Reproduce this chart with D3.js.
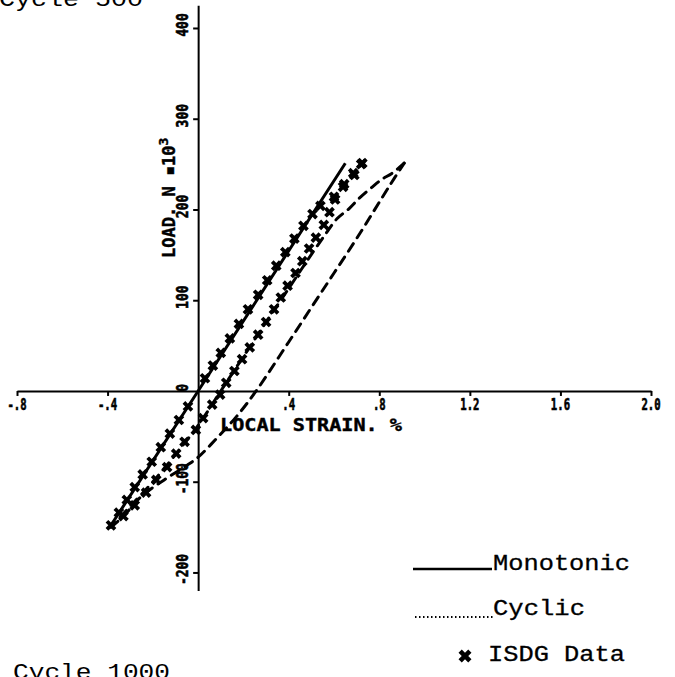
<!DOCTYPE html>
<html>
<head>
<meta charset="utf-8">
<script src="https://cdn.jsdelivr.net/npm/d3@7"></script>
<style>
  html, body { margin: 0; padding: 0; background: #fff; }
  svg { display: block; }
</style>
</head>
<body>
<svg id="chart"></svg>
<script>
const width = 675;
const height = 677;

// tick values and labels
const xTickValues = [-0.8, -0.4, 0.4, 0.8, 1.2, 1.6, 2.0];
const xTickLabels = ["-.8", "-.4", ".4", ".8", "1.2", "1.6", "2.0"];
const yTickValues = [400, 300, 200, 100, 0, -100, -200];
const yTickLabels = ["400", "300", "200", "100", "0", "-100", "-200"];

// monotonic curve (straight line)
const monoStrain = [-0.385, 0, 0.65];
const monoLoad = [-148, 0, 251];

// cyclic loop: loading branch (right side)
const cycUpStrain = [-0.385, -0.33, -0.25, -0.15, -0.05, 0.0, 0.09, 0.17, 0.256, 0.40, 0.55, 0.70, 0.85, 0.91];
const cycUpLoad = [-150, -138, -116, -98, -82, -73, -50, -28, 0, 54, 111, 168, 228, 251];

// cyclic loop: unloading branch (left side)
const cycDownStrain = [0.91, 0.857, 0.81, 0.77, 0.71, 0.667, 0.614, 0.56, 0.48, 0.40, 0.30, 0.20, 0.10, 0.0, -0.10, -0.20, -0.30, -0.385];
const cycDownLoad = [251, 240, 233, 225, 212, 201, 190, 172, 143, 113, 76, 38, 0, -38, -70, -100, -127, -150];

// ISDG data, loading (along the monotonic line)
const isdgUpStrain = [-0.385, -0.35, -0.315, -0.28, -0.245, -0.205, -0.165, -0.125, -0.085, -0.045, 0.03, 0.065, 0.10, 0.14, 0.18, 0.22, 0.265, 0.305, 0.345, 0.385, 0.425, 0.465, 0.505, 0.54, 0.60, 0.645, 0.685, 0.72];
const isdgUpLoad = [-148, -134, -120, -106, -92, -78, -62, -47, -32, -17, 14, 28, 42, 58, 74, 90, 106, 122, 138, 153, 168, 182, 195, 204, 214, 228, 240, 250];

// ISDG data, unloading
const isdgDownStrain = [0.725, 0.69, 0.64, 0.605, 0.58, 0.555, 0.52, 0.49, 0.46, 0.43, 0.395, 0.365, 0.335, 0.30, 0.265, 0.228, 0.194, 0.16, 0.124, 0.097, 0.062, 0.022, -0.01, -0.06, -0.097, -0.137, -0.185, -0.23, -0.28, -0.33];
const isdgDownLoad = [251, 238, 225, 211, 197, 183, 169, 157, 143, 130, 116, 103, 90, 76, 62, 48, 35, 22, 9, -4, -15, -30, -43, -56, -69, -84, -98, -112, -126, -138];

const legendLabels = ["Monotonic", "Cyclic", "ISDG Data"];

const svg = d3.select("#chart")
  .attr("width", width)
  .attr("height", height)
  .style("background", "#fff");

const x = d3.scaleLinear()
  .domain([-0.8, 2.0])
  .range([17, 651]);

const y = d3.scaleLinear()
  .domain([-220, 425])
  .range([590.6, 5.3]);

const zip = (a, b) => a.map((v, i) => [v, b[i]]);

// axes
svg.append("g")
  .attr("transform", `translate(0,${y(0)})`)
  .call(d3.axisBottom(x).tickValues(xTickValues).tickSize(5).tickSizeOuter(0).tickFormat(""));

svg.append("g")
  .attr("transform", `translate(${x(0)},0)`)
  .call(d3.axisLeft(y).tickValues(yTickValues.filter(v => v !== 0)).tickSize(5).tickSizeOuter(0).tickFormat(""));

svg.selectAll(".domain, .tick line")
  .attr("stroke", "#000")
  .attr("stroke-width", 2);

const tickFont = "'DejaVu Sans Mono', monospace";

svg.append("g").selectAll("text")
  .data(xTickValues)
  .enter().append("text")
  .attr("x", d => x(d))
  .attr("y", y(0) + 19)
  .attr("text-anchor", "middle")
  .attr("font-family", tickFont)
  .attr("font-weight", "bold")
  .attr("font-size", 15)
  .attr("stroke", "#000")
  .attr("stroke-width", 0.6)
  .attr("textLength", (d, i) => xTickLabels[i].length * 6.4)
  .attr("lengthAdjust", "spacingAndGlyphs")
  .text((d, i) => xTickLabels[i]);

svg.append("g").selectAll("text")
  .data(yTickValues)
  .enter().append("text")
  .attr("transform", d => `translate(${x(0) - 10},${y(d) - 3}) rotate(-90)`)
  .attr("text-anchor", "middle")
  .attr("font-family", tickFont)
  .attr("font-weight", "bold")
  .attr("font-size", 16)
  .attr("stroke", "#000")
  .attr("stroke-width", 0.6)
  .attr("textLength", (d, i) => yTickLabels[i].length * 7.8)
  .attr("lengthAdjust", "spacingAndGlyphs")
  .text((d, i) => yTickLabels[i]);

// axis titles
svg.append("text")
  .attr("x", 220)
  .attr("y", 431)
  .attr("font-family", tickFont)
  .attr("font-weight", "bold")
  .attr("font-size", 17)
  .attr("stroke", "#000")
  .attr("stroke-width", 0.4)
  .attr("textLength", 182)
  .attr("lengthAdjust", "spacingAndGlyphs")
  .text("LOCAL STRAIN. %");

const yTitle = svg.append("text")
  .attr("transform", "translate(175,258) rotate(-90)")
  .attr("font-family", tickFont)
  .attr("font-weight", "bold")
  .attr("font-size", 17)
  .attr("stroke", "#000")
  .attr("stroke-width", 0.4);
yTitle.append("tspan").text("LOAD. N \u25AA10");
yTitle.append("tspan").attr("dy", -7).attr("font-size", 13).text("3");

// curves
const line = d3.line()
  .x(d => x(d[0]))
  .y(d => y(d[1]));

const smooth = d3.line()
  .x(d => x(d[0]))
  .y(d => y(d[1]))
  .curve(d3.curveCatmullRom);

svg.append("path")
  .attr("d", line(zip(monoStrain, monoLoad)))
  .attr("fill", "none")
  .attr("stroke", "#000")
  .attr("stroke-width", 3);

[zip(cycUpStrain, cycUpLoad), zip(cycDownStrain, cycDownLoad)].forEach(pts => {
  svg.append("path")
    .attr("d", smooth(pts))
    .attr("fill", "none")
    .attr("stroke", "#000")
    .attr("stroke-width", 3)
    .attr("stroke-linecap", "round")
    .attr("stroke-dasharray", "9,7");
});

// ISDG markers
const marker = d3.symbol().type(d3.symbolCross).size(72);

svg.append("g").selectAll("path")
  .data(zip(isdgUpStrain, isdgUpLoad).concat(zip(isdgDownStrain, isdgDownLoad)))
  .enter().append("path")
  .attr("d", marker)
  .attr("transform", d => `translate(${x(d[0])},${y(d[1])}) rotate(45)`)
  .attr("fill", "#000");

// legend
const legendFont = "'Liberation Mono', 'Courier New', monospace";
const legend = svg.append("g");

legend.append("line")
  .attr("x1", 413).attr("x2", 492)
  .attr("y1", 569).attr("y2", 569)
  .attr("stroke", "#000")
  .attr("stroke-width", 2.5);

legend.append("line")
  .attr("x1", 415).attr("x2", 493)
  .attr("y1", 617).attr("y2", 617)
  .attr("stroke", "#000")
  .attr("stroke-width", 2)
  .attr("stroke-dasharray", "1.5,2.5");

legend.append("path")
  .attr("d", d3.symbol().type(d3.symbolCross).size(105)())
  .attr("transform", "translate(465,656) rotate(45)")
  .attr("fill", "#000");

const legendPos = [[493, 570, 137], [493, 615, 92], [488, 661, 137]];
legend.selectAll("text")
  .data(legendLabels)
  .enter().append("text")
  .attr("x", (d, i) => legendPos[i][0])
  .attr("y", (d, i) => legendPos[i][1])
  .attr("font-family", legendFont)
  .attr("font-size", 22)
  .attr("stroke", "#000")
  .attr("stroke-width", 0.3)
  .attr("textLength", (d, i) => legendPos[i][2])
  .attr("lengthAdjust", "spacingAndGlyphs")
  .text(d => d);

// cycle captions, partly cut by the page edges as in the original
svg.append("text")
  .attr("x", -1)
  .attr("y", 6)
  .attr("font-family", legendFont)
  .attr("font-size", 22)
  .attr("textLength", 144)
  .attr("lengthAdjust", "spacingAndGlyphs")
  .text("Cycle 500");

svg.append("text")
  .attr("x", 13)
  .attr("y", 679)
  .attr("font-family", legendFont)
  .attr("font-size", 22)
  .attr("textLength", 157)
  .attr("lengthAdjust", "spacingAndGlyphs")
  .text("Cycle 1000");
</script>
</body>
</html>
